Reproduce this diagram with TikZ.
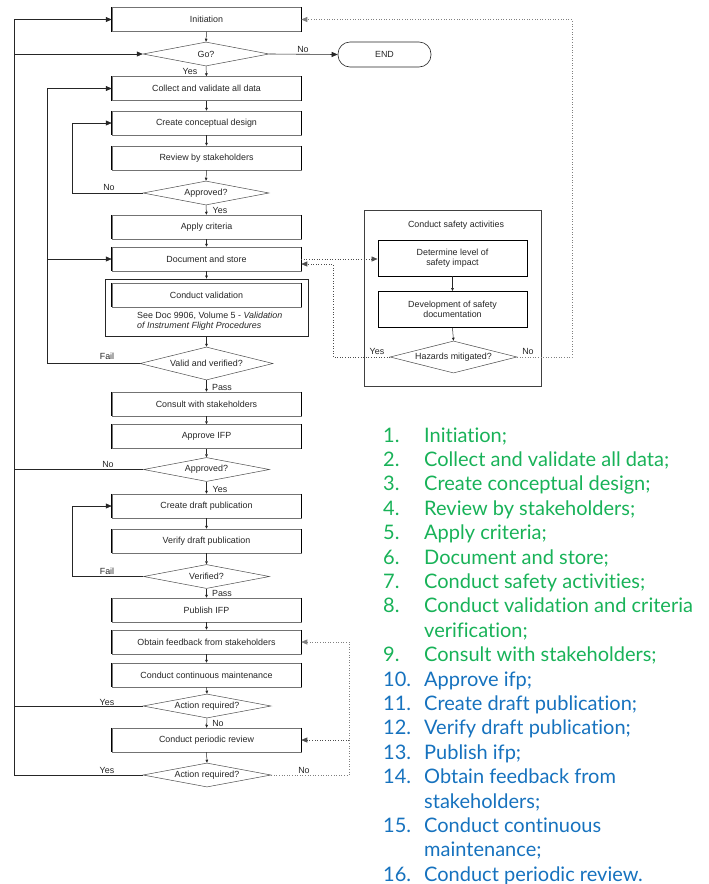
\documentclass[tikz,border=0pt]{standalone}
\usepackage{fontspec}
\setmainfont{Liberation Sans}
\newfontfamily\listfont[Ligatures=NoCommon]{Lato}
\usepackage{xcolor}
\usetikzlibrary{shapes,arrows.meta,positioning}

\definecolor{stepgreen}{RGB}{24,178,88}
\definecolor{stepblue}{RGB}{22,114,190}
\newcommand{\flowfont}{\fontsize{8.9}{10.6}\selectfont}

\tikzset{
    proc/.style={rectangle, draw=black!55, line width=0.5pt, minimum width=189pt,
        minimum height=24pt, inner sep=2pt, font=\flowfont, text=black!85},
    safebox/.style={rectangle, draw=black, line width=0.9pt, minimum width=149pt,
        minimum height=36pt, align=center, font=\flowfont, text=black!85},
    decision/.style={diamond, draw=black!70, line width=0.5pt, aspect=5, inner sep=0pt,
        minimum width=126pt, minimum height=24pt, font=\flowfont, text=black!85},
    term/.style={rectangle, rounded corners=12pt, draw=black!85, line width=0.6pt,
        minimum width=93pt, minimum height=25pt, font=\flowfont, text=black!85},
    frame/.style={rectangle, draw=black!85, line width=0.8pt},
    lbl/.style={font=\flowfont, text=black!85, inner sep=1pt},
    flow/.style={draw=black!85, line width=0.6pt, -{Triangle[length=6pt,width=5pt]}},
    stem/.style={draw=black!85, line width=0.5pt, -{Triangle[length=3pt,width=2.6pt]}},
    rail/.style={draw=black!85, line width=0.6pt},
    dots/.style={dotted, draw=black!70, line width=0.6pt},
    item/.style={font=\listfont\fontsize{20}{24.4}\selectfont, inner sep=0pt,
        anchor=base west, align=left},
}

\begin{document}
\begin{tikzpicture}[x=1pt,y=-1pt]
    \useasboundingbox (0,0) rectangle (709,884);

    % main column
    \node[proc] (init) at (206.5,19.5) {Initiation};
    \node[decision] (go) at (206,54) {Go?};
    \node[term] (finish) at (384.5,54.5) {END};
    \node[proc] (collect) at (206.5,88.5) {Collect and validate all data};
    \node[proc] (concept) at (206.5,123) {Create conceptual design};
    \node[proc] (review) at (206.5,158) {Review by stakeholders};
    \node[decision] (appr1) at (206,193) {Approved?};
    \node[proc] (criteria) at (206.5,227) {Apply criteria};
    \node[proc] (docstore) at (206.5,259) {Document and store};
    \node[frame, minimum width=203pt, minimum height=57pt] (valbox) at (206.5,307.5) {};
    \node[proc] (validation) at (206.5,295) {Conduct validation};
    \node[lbl, anchor=west, align=left] (valnote) at (136,321)
        {See Doc 9906, Volume 5 - \textit{Validation}\\\textit{of Instrument Flight Procedures}};
    \node[decision, minimum width=133pt, minimum height=33pt] (valid) at (206.5,363.5) {Valid and verified?};
    \node[proc] (consult) at (206.5,404) {Consult with stakeholders};
    \node[proc] (apprifp) at (206.5,436.5) {Approve IFP};
    \node[decision] (appr2) at (206.5,469.5) {Approved?};
    \node[proc] (draft) at (206.5,506) {Create draft publication};
    \node[proc] (verify) at (206.5,541) {Verify draft publication};
    \node[decision] (verified) at (206.5,576.5) {Verified?};
    \node[proc] (publish) at (206.5,610) {Publish IFP};
    \node[proc] (feedback) at (206.5,642) {Obtain feedback from stakeholders};
    \node[proc] (maint) at (206.5,675) {Conduct continuous maintenance};
    \node[decision, minimum width=128pt] (action1) at (207,706) {Action required?};
    \node[proc] (periodic) at (206.5,740) {Conduct periodic review};
    \node[decision, minimum width=128pt] (action2) at (207,775) {Action required?};

    % heavy side edges of the process boxes
    \foreach \b in {init,collect,concept,review,criteria,docstore,validation,consult,
                    apprifp,draft,verify,publish,feedback,maint,periodic}
        \draw[line width=1.2pt] (\b.north west) -- (\b.south west)
                                (\b.north east) -- (\b.south east);

    % safety activities
    \node[frame, draw=black!75, minimum width=177pt, minimum height=176pt] (safety) at (452.5,298) {};
    \node[lbl] (safetitle) at (456,225) {Conduct safety activities};
    \node[safebox] (level) at (452.5,258) {Determine level of\\safety impact};
    \node[safebox] (safedoc) at (452.5,309.5) {Development of safety\\documentation};
    \node[decision, minimum width=127pt, minimum height=32pt] (hazards) at (453.5,357) {Hazards mitigated?};

    % straight steps
    \foreach \a/\b in {init/go, go/collect, collect/concept, concept/review, review/appr1,
                       appr1/criteria, criteria/docstore, docstore/valbox, valbox/valid,
                       valid/consult, consult/apprifp, apprifp/appr2, appr2/draft,
                       draft/verify, verify/verified, verified/publish, publish/feedback,
                       feedback/maint, maint/action1, action1/periodic, periodic/action2,
                       level/safedoc, safedoc/hazards}
        \draw[stem] (\a.south) -- (\b.north);
    \draw[flow] (go.east) -- (finish.west);

    % return rails
    \coordinate (outer) at (14,0);
    \coordinate (mid) at (47,0);
    \coordinate (inner) at (72,0);
    \coordinate (yesrail) at (333,0);
    \coordinate (norail) at (572,0);
    \coordinate (backrail) at (349,0);

    \draw[flow] (action2.west) -- (action2.west -| outer) |- (init.west);
    \draw[flow] (outer |- go.west) -- (go.west);
    \draw[rail] (appr2.west) -- (appr2.west -| outer);
    \draw[rail] (action1.west) -- (action1.west -| outer);

    \draw[flow] (valid.west) -- (valid.west -| mid) |- (collect.west);
    \draw[flow] (mid |- docstore.west) -- (docstore.west);

    \draw[flow] (appr1.west) -- (appr1.west -| inner) |- (concept.west);
    \draw[flow] (verified.west) -- (verified.west -| inner) |- (draft.west);

    % dotted links
    \draw[dots, -{Triangle[length=6pt,width=5pt]}] (docstore.east) -- (docstore.east -| level.west);
    \draw[dots, -{Triangle[length=6pt,width=5pt]}] (hazards.west) -- (hazards.west -| yesrail)
        |- ([yshift=-5pt]docstore.east);
    \draw[dots, draw=black!50, -{Triangle[length=6pt,width=5pt]}] (hazards.east) -- (hazards.east -| norail)
        |- (init.east);
    \draw[dots, draw=black!50, -{Triangle[length=6pt,width=5pt]}] (action2.east) -- (action2.east -| backrail)
        |- (feedback.east);
    \draw[dots, -{Triangle[length=6pt,width=5pt]}] (backrail |- periodic.east) -- (periodic.east);

    % branch labels
    \node[lbl] (goyes) at (190,71) {Yes};
    \node[lbl] (gono) at (303,49) {No};
    \node[lbl] (appr1no) at (109,187) {No};
    \node[lbl] (appr1yes) at (220,210) {Yes};
    \node[lbl] (validfail) at (107,356) {Fail};
    \node[lbl] (validpass) at (222,387) {Pass};
    \node[lbl] (appr2no) at (108,464) {No};
    \node[lbl] (appr2yes) at (220,489) {Yes};
    \node[lbl] (verfail) at (107,571) {Fail};
    \node[lbl] (verpass) at (222,593) {Pass};
    \node[lbl] (act1yes) at (107,702) {Yes};
    \node[lbl] (act1no) at (218,723) {No};
    \node[lbl] (act2yes) at (107,770) {Yes};
    \node[lbl] (act2no) at (304,770) {No};
    \node[lbl] (hazyes) at (377,351) {Yes};
    \node[lbl] (hazno) at (528,351) {No};

    % numbered steps (second y is the baseline of the last text line)
    \foreach \n/\y/\ly/\txt in {1/442/442/Initiation;,
            2/466.4/466.4/Collect and validate all data;,
            3/490.8/490.8/Create conceptual design;,
            4/515.2/515.2/Review by stakeholders;,
            5/539.6/539.6/Apply criteria;,
            6/564/564/Document and store;,
            7/588.4/588.4/Conduct safety activities;,
            8/612.8/637.2/{Conduct validation and criteria\\verification;},
            9/661.6/661.6/Consult with stakeholders;} {
        \node[item, text=stepgreen] (num\n) at (383,\y) {\n.};
        \node[item, text=stepgreen] (step\n) at (424,\ly) {\txt};
    }
    \foreach \n/\y/\ly/\txt in {10/686/686/Approve ifp;,
            11/710.4/710.4/Create draft publication;,
            12/734.8/734.8/Verify draft publication;,
            13/759.2/759.2/Publish ifp;,
            14/783.6/808/{Obtain feedback from\\stakeholders;},
            15/832.4/856.8/{Conduct continuous\\maintenance;},
            16/881.2/881.2/Conduct periodic review.} {
        \node[item, text=stepblue] (num\n) at (383,\y) {\n.};
        \node[item, text=stepblue] (step\n) at (424,\ly) {\txt};
    }
\end{tikzpicture}
\end{document}
